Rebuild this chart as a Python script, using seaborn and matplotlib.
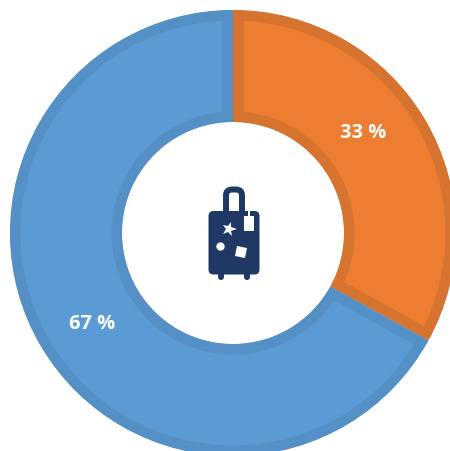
import matplotlib
matplotlib.use("Agg")
import matplotlib.pyplot as plt
import seaborn as sns
from matplotlib.markers import MarkerStyle
from matplotlib.patches import FancyBboxPatch, Rectangle
from matplotlib.transforms import Affine2D

# Data
shares = [33, 67]
share_labels = ["33 %", "67 %"]
fill_colors = ["#ED7D31", "#5B9BD5"]
edge_colors = ["#D5732F", "#5490C6"]
navy = "#1F3864"

sns.set_theme(style="white")
plt.rcParams["font.family"] = ["Open Sans", "DejaVu Sans"]

fig = plt.figure(figsize=(4.5, 4.52), dpi=100)
ax = fig.add_axes([0, 0, 1, 1])

# y runs downwards so the axes can work in picture pixels
wedges, _ = ax.pie(shares, colors=fill_colors, startangle=-90, counterclock=True,
                   center=(233, 234), radius=223,
                   wedgeprops=dict(width=112))
ax.set_xlim(0, 450)
ax.set_ylim(452, 0)
ax.set_aspect("equal")
ax.axis("off")

# inner border: double width stroke clipped by the wedge itself
border_px = 10.5
for w, ec in zip(wedges, edge_colors):
    w.set_edgecolor(ec)
    w.set_linewidth(2 * border_px * 72 / fig.dpi)
    w.set_joinstyle("miter")
    w.set_clip_on(True)  # pie turns clipping off
    w.set_clip_path(w)

ax.text(363, 133, share_labels[0], color="white", fontsize=14.5, fontweight="bold",
        ha="center", va="center")
ax.text(92, 324, share_labels[1], color="white", fontsize=14.5, fontweight="bold",
        ha="center", va="center")

# suitcase icon in the hole
# handle
ax.add_patch(FancyBboxPatch((226, 190.5), 16, 30, boxstyle="round,pad=0,rounding_size=6",
                            fc="none", ec=navy, lw=4.3, zorder=3))
# wheels
for wx in (218, 244):
    ax.add_patch(FancyBboxPatch((wx, 270), 6, 11, boxstyle="round,pad=0,rounding_size=3",
                                fc=navy, ec="none", zorder=3))
# body
ax.add_patch(FancyBboxPatch((208.5, 212), 51, 63.5, boxstyle="round,pad=0,rounding_size=5",
                            fc=navy, ec="none", zorder=4))
# luggage tag
ax.add_patch(Rectangle((243.5, 217), 10.5, 15, fc="white", ec="none", zorder=5))
ax.add_patch(Rectangle((247.5, 212), 2.5, 6, fc="white", ec="none", zorder=5))
# stickers
star = MarkerStyle("*", transform=Affine2D().rotate_deg(-15))
ax.plot(228.5, 229.5, marker=star, ms=11, color="white", mew=0, zorder=5)
ax.plot(220.3, 247.3, marker="o", ms=6, color="white", mew=0, zorder=5)
square = MarkerStyle("s", transform=Affine2D().rotate_deg(-12))
ax.plot(241, 253.3, marker=square, ms=7.5, color="white", mew=0, zorder=5)

fig.savefig("out.png", dpi=100, facecolor="white")
